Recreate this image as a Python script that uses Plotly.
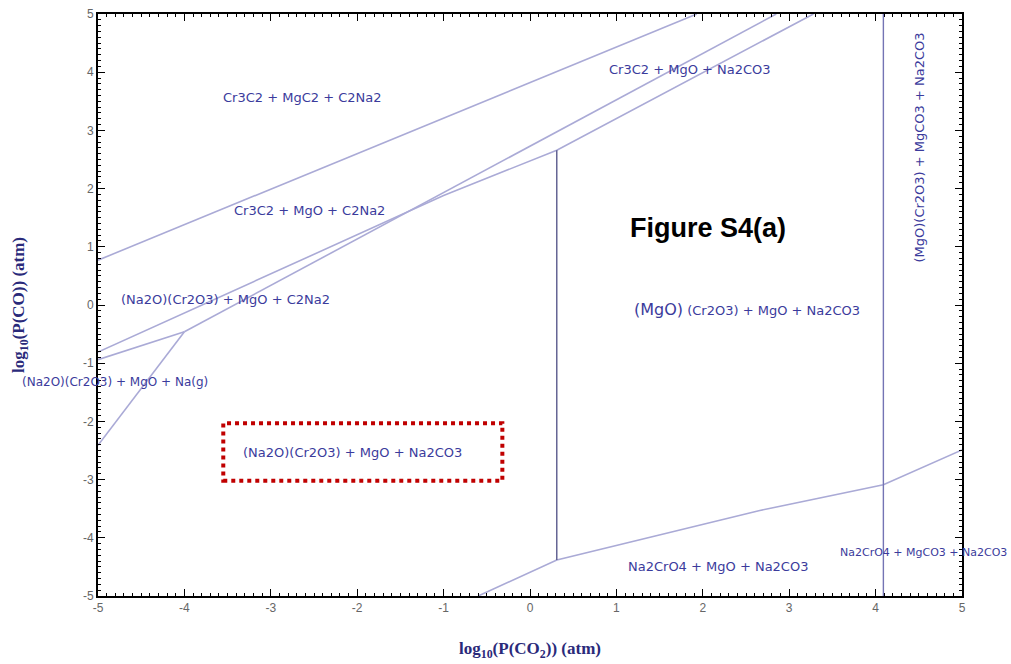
import plotly.graph_objects as go

# ---- data (log10 P(CO2), log10 P(CO)) ----
top_line_x = [-5.0, 1.93]
top_line_y = [0.77, 5.0]

line_q_x = [-4.0, 2.85]
line_q_y = [-0.46, 5.0]

line_p_x = [-5.0, -1.0, 0.31, 3.28]
line_p_y = [-0.81, 1.88, 2.66, 5.0]

line_r_x = [-5.0, -4.0]
line_r_y = [-0.94, -0.46]

line_s_x = [-5.0, -4.0]
line_s_y = [-2.41, -0.46]

bottom_x = [-0.6, 0.31, 2.66, 4.09, 5.0]
bottom_y = [-5.0, -4.38, -3.53, -3.09, -2.49]

vert1_x = [0.31, 0.31]
vert1_y = [2.66, -4.38]

vert2_x = [4.09, 4.09]
vert2_y = [5.0, -5.0]

region_labels = [
    "Cr3C2 + MgC2 + C2Na2",
    "Cr3C2 + MgO + C2Na2",
    "Cr3C2 + MgO + Na2CO3",
    "(Na2O)(Cr2O3) + MgO + C2Na2",
    "(Na2O)(Cr2O3) + MgO + Na(g)",
    "(Na2O)(Cr2O3) + MgO + Na2CO3",
    "<span style='font-size:16px'>(MgO)</span> (Cr2O3) + MgO + Na2CO3",
    "Na2CrO4 + MgO + Na2CO3",
    "Na2CrO4 + MgCO3 + Na2CO3",
]
label_x = [-2.64, -2.55, 1.85, -3.53, -4.80, -2.06, 2.51, 2.18, 4.56]
label_y = [3.57, 1.62, 4.04, 0.09, -1.32, -2.53, -0.07, -4.50, -4.26]
label_size = [13, 13, 13, 13, 12, 13, 13, 13, 11]

vertical_label = "(MgO)(Cr2O3) + MgCO3 + Na2CO3"
vertical_label_x = 4.51
vertical_label_y = 2.70

highlight_box_x = [-3.55, -0.32]
highlight_box_y = [-3.02, -2.03]

tick_vals = [-5, -4, -3, -2, -1, 0, 1, 2, 3, 4, 5]
tick_text = ["-5", "-4", "-3", "-2", "-1", "0", "1", "2", "3", "4", "5"]

fig = go.Figure()

light = "#aaaad6"
dark = "#5a5a8c"
mid = "#7474b4"

for xs, ys, col, w in [
    (top_line_x, top_line_y, light, 1.6),
    (line_q_x, line_q_y, light, 1.6),
    (line_p_x, line_p_y, light, 1.6),
    (line_r_x, line_r_y, light, 1.6),
    (line_s_x, line_s_y, light, 1.6),
    (bottom_x, bottom_y, light, 1.6),
    (vert1_x, vert1_y, dark, 1.4),
    (vert2_x, vert2_y, mid, 1.4),
]:
    fig.add_trace(go.Scatter(x=xs, y=ys, mode="lines",
                             line=dict(color=col, width=w),
                             hoverinfo="skip", showlegend=False))

text_col = "#3b3b9c"
label_font = "DejaVu Sans, Verdana, sans-serif"
for t, x, y, s in zip(region_labels, label_x, label_y, label_size):
    fig.add_annotation(x=x, y=y, text=t, showarrow=False,
                       font=dict(family=label_font, size=s, color=text_col))

fig.add_annotation(x=vertical_label_x, y=vertical_label_y, text=vertical_label,
                   showarrow=False, textangle=-90,
                   font=dict(family=label_font, size=13, color=text_col))

fig.add_annotation(x=2.06, y=1.32, text="<b>Figure S4(a)</b>", showarrow=False,
                   font=dict(family="Liberation Sans, Arial", size=27, color="black"))

fig.add_shape(type="rect", x0=highlight_box_x[0], x1=highlight_box_x[1],
              y0=highlight_box_y[0], y1=highlight_box_y[1],
              line=dict(color="#c00000", width=4, dash="dot"))

axis_common = dict(
    range=[-5, 5], tickvals=tick_vals, ticktext=tick_text,
    ticks="inside", ticklen=7, tickwidth=1.2,
    tickcolor="black", showline=True, linecolor="black", linewidth=2, mirror="ticks",
    showgrid=False, zeroline=False, automargin=False,
    tickfont=dict(family="Liberation Sans, Arial", size=12, color="#666666"),
    minor=dict(dtick=0.1, ticks="inside", ticklen=3, tickcolor="black", tickwidth=1, showgrid=False),
)

title_font = dict(family="Liberation Serif, Times New Roman", size=17, color="#2a2a7a")

fig.update_layout(
    width=1011, height=664,
    margin=dict(l=98, r=49, t=14, b=68),
    paper_bgcolor="white", plot_bgcolor="white",
    xaxis=dict(**axis_common,
               title=dict(text="<b>log<sub>10</sub>(P(CO<sub>2</sub>)) (atm)</b>",
                          font=title_font, standoff=28)),
    yaxis=dict(**axis_common,
               title=dict(text="<b>log<sub>10</sub>(P(CO)) (atm)</b>",
                          font=title_font, standoff=54)),
)

fig.write_html("out.html")
